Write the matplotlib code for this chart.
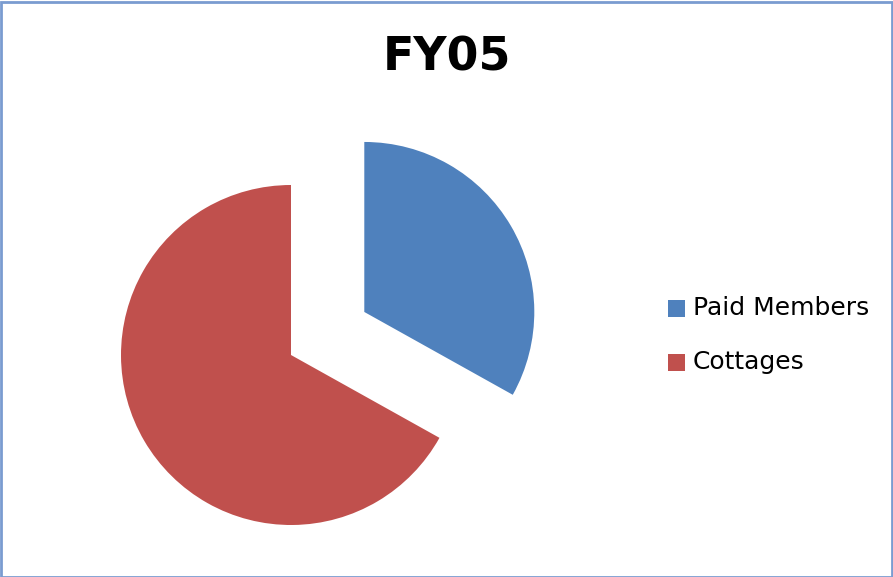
import matplotlib.pyplot as plt
from matplotlib.patches import Rectangle

# datos
labels = ['Paid Members', 'Cottages']
values = [33.1, 66.9]
colors = ['#4F81BD', '#C0504D']
explode = [0.5, 0]
title = 'FY05'

W, H = 893, 577
fig = plt.figure(figsize=(W / 100, H / 100), dpi=100)

# ejes sobre toda la figura, 170 px por unidad de radio
ax = fig.add_axes([0, 0, 1, 1])
scale = 170.0
cx, cy = 291, 355
ax.pie(values, colors=colors, explode=explode, startangle=90, counterclock=False,
       radius=1, center=(0, 0))
ax.set_xlim(-cx / scale, (W - cx) / scale)
ax.set_ylim((cy - H) / scale, cy / scale)
ax.set_aspect('auto')
ax.set_axis_off()

# titulo
fig.text(447 / W, 1 - 58 / H, title, ha='center', va='center',
         fontsize=33, fontweight='bold', color='black')

# leyenda manual
for i, (lab, col) in enumerate(zip(labels, colors)):
    ypix = 308 + i * 54
    fig.patches.append(Rectangle((668 / W, 1 - (ypix + 9) / H), 17 / W, 17 / H,
                                 transform=fig.transFigure, facecolor=col,
                                 edgecolor='none'))
    fig.text(693 / W, 1 - ypix / H, lab, ha='left', va='center',
             fontsize=18, color='black')

# borde de la figura
fig.patches.append(Rectangle((0.5 / W, 0.5 / H), 1 - 2 / W, 1 - 2 / H,
                             transform=fig.transFigure, facecolor='none',
                             edgecolor='#7A9CD0', linewidth=2))

plt.savefig('out.png', dpi=100)
plt.close()
